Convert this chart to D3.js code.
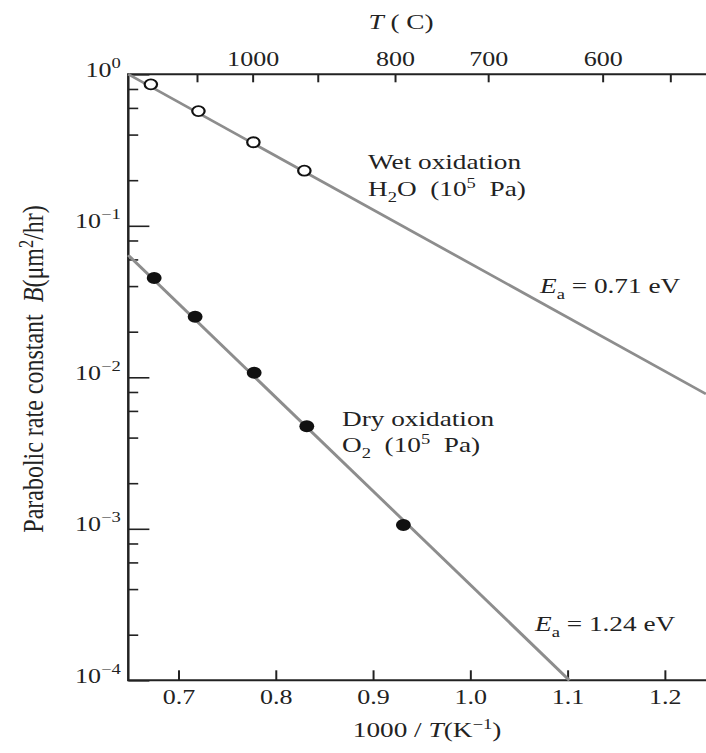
<!DOCTYPE html>
<html>
<head>
<meta charset="utf-8">
<script src="https://cdn.jsdelivr.net/npm/d3@7"></script>
<style>
  html, body { margin: 0; padding: 0; background: #fff; }
  svg { display: block; }
  text { font-family: "Liberation Serif", "Times New Roman", serif; fill: #222; white-space: pre; }
</style>
</head>
<body>
<div id="chart"></div>
<script>
// values (x = 1000/T in 1/K, B in um^2/hr)
const wetX = [0.6717, 0.7206, 0.7771, 0.8295];
const wetB = [0.859, 0.572, 0.356, 0.231];
const dryX = [0.6751, 0.7172, 0.7779, 0.8320, 0.9313];
const dryB = [0.0453, 0.0251, 0.0107, 0.00475, 0.00106];
const wetFitX = [0.6485, 1.2424];
const wetFitB = [1.0, 0.00776];
const dryFitX = [0.6484, 1.102];
const dryFitB = [0.064, 0.0001];
const bottomTicks = [0.7, 0.8, 0.9, 1.0, 1.1, 1.2];
const topTicksC = [1100, 1000, 900, 800, 700, 600, 550];
const topLabelsC = [1000, 800, 700, 600];
const yMajor = [1e-4, 1e-3, 1e-2, 1e-1, 1];
const yExp = ['−4', '−3', '−2', '−1', '0'];
const yMinorMant = [2, 4, 6, 8];

// the printed figure is stretched sideways, so draw in a narrower box and stretch it
const k = 1.24;
const W = 706 / k, H = 753;
const x0 = 128.3 / k, x1 = W, y0 = 74.3, y1 = 680.3;

const svg = d3.select('#chart').append('svg')
  .attr('width', 706)
  .attr('height', H)
  .attr('viewBox', `0 0 ${W} ${H}`)
  .attr('preserveAspectRatio', 'none');

const x = d3.scaleLinear().domain([0.6485, 1.2424]).range([x0, x1]);
const xTop = x.copy().range([x0 - 9 / k, x1 - 9 / k]);
const y = d3.scaleLog().domain([1e-4, 1]).range([y1, y0]);

const yMinor = [];
yMajor.slice(0, -1).forEach(d => yMinorMant.forEach(m => yMinor.push(d * m)));

// bottom axis
const gx = svg.append('g')
  .attr('transform', `translate(0,${y1})`)
  .call(d3.axisBottom(x).tickValues(bottomTicks).tickSize(-10).tickPadding(9)
    .tickFormat(d3.format('.1f')));
gx.select('.domain').remove();

// top axis in degrees C
const invT = c => 1000 / (c + 273.15);
const gt = svg.append('g')
  .attr('transform', `translate(0,${y0})`)
  .call(d3.axisTop(xTop).tickValues(topTicksC.map(invT)).tickSize(-8).tickPadding(8)
    .tickFormat((d, i) => topLabelsC.includes(topTicksC[i]) ? topTicksC[i] : ''));
gt.select('.domain').remove();

// left axis, major and minor ticks inward
const gy = svg.append('g')
  .attr('transform', `translate(${x0},0)`)
  .call(d3.axisLeft(y).tickValues(yMajor).tickSize(-17).tickPadding(6).tickFormat(''));
gy.select('.domain').remove();
gy.selectAll('.tick text')
  .attr('dy', null)
  .attr('y', 2)
  .each(function (d, i) {
    const t = d3.select(this);
    t.append('tspan').text('10');
    t.append('tspan').attr('dy', -9).attr('font-size', 15).text(yExp[i]);
  });

const gym = svg.append('g')
  .attr('transform', `translate(${x0},0)`)
  .call(d3.axisLeft(y).tickValues(yMinor).tickSize(-8).tickFormat(''));
gym.select('.domain').remove();

svg.selectAll('.tick line').attr('stroke', '#222').attr('stroke-width', 1.6);
svg.selectAll('.tick text').attr('font-size', 21).attr('fill', '#222')
  .style('font-family', '"Liberation Serif", "Times New Roman", serif');

// frame (no right edge)
svg.append('path')
  .attr('d', `M${x1},${y0}H${x0}V${y1}H${x1}`)
  .attr('fill', 'none')
  .attr('stroke', '#222')
  .attr('stroke-width', 2);

// fit lines
const line = d3.line().x(d => x(d[0])).y(d => y(d[1]));
[[wetFitX, wetFitB], [dryFitX, dryFitB]].forEach(([xs, bs]) => {
  svg.append('path')
    .datum(xs.map((v, i) => [v, bs[i]]))
    .attr('d', line)
    .attr('fill', 'none')
    .attr('stroke', '#8d8d8d')
    .attr('stroke-width', 2.6);
});

// data points
svg.append('g').selectAll('circle')
  .data(wetX.map((v, i) => [v, wetB[i]]))
  .join('circle')
  .attr('cx', d => x(d[0])).attr('cy', d => y(d[1]))
  .attr('r', 5)
  .attr('fill', '#fff').attr('stroke', '#111').attr('stroke-width', 1.8);

svg.append('g').selectAll('circle')
  .data(dryX.map((v, i) => [v, dryB[i]]))
  .join('circle')
  .attr('cx', d => x(d[0])).attr('cy', d => y(d[1]))
  .attr('r', 6)
  .attr('fill', '#111');

// text helper: parts = [text, style] with style '', 'i', 'sub', 'sup'
function rich(px, py, parts, size, anchor, rotate) {
  const t = svg.append('text')
    .attr('font-size', size)
    .attr('text-anchor', anchor || 'start');
  if (rotate) t.attr('transform', `translate(${px / k},${py}) rotate(-90)`);
  else t.attr('x', px / k).attr('y', py);
  let shift = 0;
  parts.forEach(([s, st]) => {
    const sp = t.append('tspan').text(s);
    let want = 0;
    if (st === 'sub') { want = 6; sp.attr('font-size', size * 0.68); }
    if (st === 'sup') { want = -8; sp.attr('font-size', size * 0.68); }
    if (st === 'i') sp.attr('font-style', 'italic');
    if (want !== shift) { sp.attr('dy', want - shift); shift = want; }
  });
  return t;
}

rich(401, 29, [['T', 'i'], [' ( C)', '']], 22, 'middle');
rich(427, 737, [['1000 / ', ''], ['T', 'i'], ['(K', ''], ['−1', 'sup'], [')', '']], 22, 'middle');
rich(43, 369, [['Parabolic rate constant  ', ''], ['B', 'i'], ['(μm', ''], ['2', 'sup'], ['/hr)', '']], 24, 'middle', true);

rich(368, 169, [['Wet oxidation', '']], 22);
rich(368, 196, [['H', ''], ['2', 'sub'], ['O  (10', ''], ['5', 'sup'], ['  Pa)', '']], 22);
rich(540, 293, [['E', 'i'], ['a', 'sub'], [' = 0.71 eV', '']], 22);

rich(342, 426, [['Dry oxidation', '']], 22);
rich(342, 452, [['O', ''], ['2', 'sub'], ['  (10', ''], ['5', 'sup'], ['  Pa)', '']], 22);
rich(535, 631, [['E', 'i'], ['a', 'sub'], [' = 1.24 eV', '']], 22);
</script>
</body>
</html>
